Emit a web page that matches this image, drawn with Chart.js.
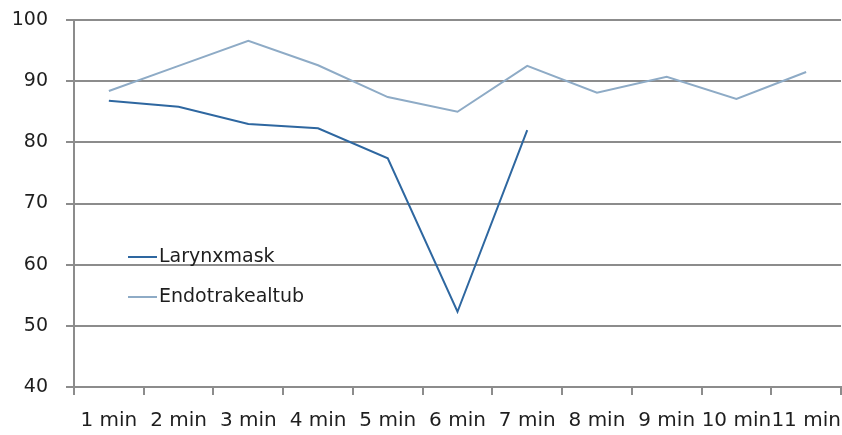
<!DOCTYPE html>
<html>
<head>
<meta charset="utf-8">
<script src="https://cdn.jsdelivr.net/npm/chart.js@4/dist/chart.umd.min.js"></script>
<style>
  html, body { margin: 0; padding: 0; background: #fff; }
  #wrap { width: 842px; height: 435px; position: relative; }
</style>
</head>
<body>
<div id="wrap"><canvas id="c"></canvas></div>
<script>
const categories = ['1 min', '2 min', '3 min', '4 min', '5 min', '6 min', '7 min', '8 min', '9 min', '10 min', '11 min'];
const larynxmask = [86.8, 85.8, 83.0, 82.3, 77.4, 52.3, 82.0, null, null, null, null];
const endotrakealtub = [88.4, 92.5, 96.6, 92.6, 87.4, 85.0, 92.5, 88.1, 90.7, 87.1, 91.5];
const seriesNames = ['Larynxmask', 'Endotrakealtub'];
const seriesColors = ['#2e67a0', '#8eabc6'];

const FONT = 'DejaVu Sans, Verdana, sans-serif';

// Legend drawn inside the plot area, lower left
const insideLegend = {
  id: 'insideLegend',
  afterDatasetsDraw(chart) {
    const ctx = chart.ctx;
    const rows = [257, 297];
    ctx.save();
    chart.data.datasets.forEach((ds, i) => {
      const y = rows[i];
      ctx.strokeStyle = ds.borderColor;
      ctx.lineWidth = 2;
      ctx.beginPath();
      ctx.moveTo(128, y);
      ctx.lineTo(157, y);
      ctx.stroke();
      ctx.fillStyle = '#1e1e1e';
      ctx.font = '19px ' + FONT;
      ctx.textBaseline = 'middle';
      ctx.textAlign = 'left';
      ctx.fillText(ds.label, 159, y);
    });
    ctx.restore();
  }
};

// Keep the label overhang from shrinking the plot area
function noPadding(s) {
  s.paddingTop = 0; s.paddingBottom = 0; s.paddingLeft = 0; s.paddingRight = 0;
}

new Chart(document.getElementById('c'), {
  type: 'line',
  data: {
    labels: categories,
    datasets: [
      { label: seriesNames[0], data: larynxmask, borderColor: seriesColors[0], borderWidth: 2, pointRadius: 0, tension: 0, spanGaps: false },
      { label: seriesNames[1], data: endotrakealtub, borderColor: seriesColors[1], borderWidth: 2, pointRadius: 0, tension: 0 }
    ]
  },
  options: {
    responsive: true,
    maintainAspectRatio: false,
    animation: false,
    layout: { padding: { top: 20, right: 1, left: 0, bottom: 0 } },
    plugins: { legend: { display: false }, tooltip: { enabled: false } },
    scales: {
      x: {
        offset: true,
        grid: { offset: true, drawOnChartArea: false, drawTicks: true, tickLength: 8, color: '#8c8c8c', lineWidth: 2 },
        border: { color: '#8c8c8c', width: 2 },
        ticks: { color: '#1e1e1e', font: { family: FONT, size: 20 }, padding: 14, maxRotation: 0, autoSkip: false },
        afterFit(s) { s.height = 48; noPadding(s); }
      },
      y: {
        min: 40, max: 100,
        ticks: { stepSize: 10, color: '#1e1e1e', font: { family: FONT, size: 19 }, padding: 18 },
        grid: { color: '#8c8c8c', lineWidth: 2, tickLength: 8 },
        border: { color: '#8c8c8c', width: 2 },
        afterFit(s) { s.width = 74; noPadding(s); }
      }
    }
  },
  plugins: [insideLegend]
});
</script>
</body>
</html>
